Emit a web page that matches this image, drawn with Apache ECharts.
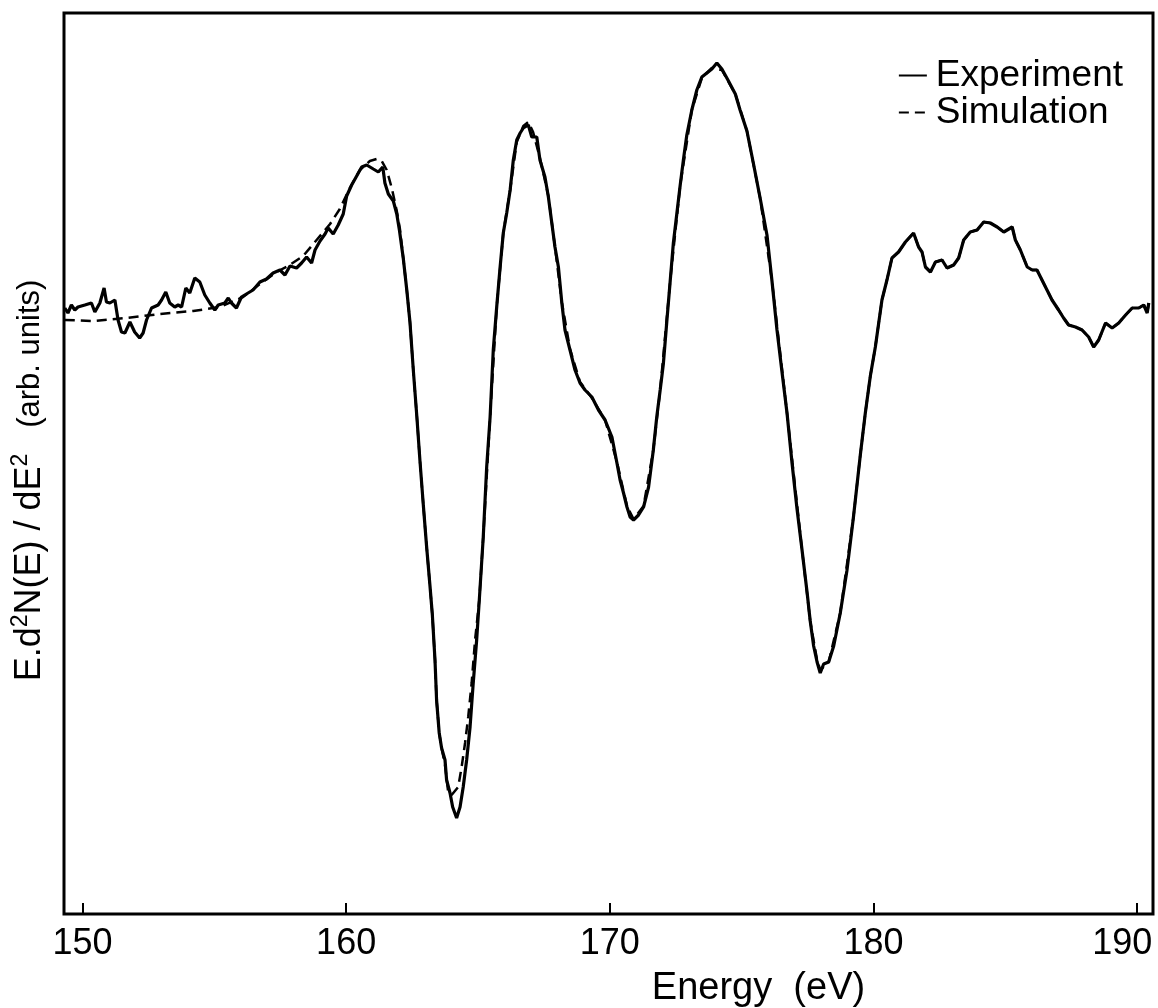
<!DOCTYPE html>
<html>
<head>
<meta charset="utf-8">
<script src="https://cdn.jsdelivr.net/npm/echarts@6.0.0/dist/echarts.min.js"></script>
<style>
html,body{margin:0;padding:0;background:#fff;}
#chart{width:1158px;height:1008px;}
</style>
</head>
<body>
<div id="chart"></div>
<script>
// Energy (eV) and intensity (arb. units)
const energyExp = [149.33,149.45,149.58,149.71,149.83,150.09,150.34,150.47,150.66,150.82,150.91,151.04,151.23,151.35,151.48,151.61,151.80,151.98,152.17,152.30,152.43,152.62,152.87,153.00,153.16,153.31,153.50,153.63,153.76,153.92,154.07,154.26,154.45,154.64,154.83,155.02,155.15,155.40,155.53,155.65,155.84,156.03,156.28,156.47,156.73,156.98,157.23,157.49,157.68,157.87,158.12,158.31,158.50,158.69,158.82,159.01,159.20,159.32,159.51,159.70,159.89,160.02,160.21,160.40,160.59,160.78,161.03,161.22,161.39,161.47,161.60,161.79,161.92,162.02,162.17,162.30,162.42,162.55,162.68,162.80,162.93,163.05,163.18,163.27,163.37,163.43,163.53,163.62,163.75,163.81,163.94,164.04,164.19,164.32,164.44,164.57,164.70,164.82,164.95,165.05,165.20,165.33,165.46,165.58,165.71,165.84,165.96,166.09,166.22,166.34,166.47,166.60,166.72,166.91,167.04,167.23,167.35,167.54,167.67,167.80,167.92,168.05,168.18,168.30,168.49,168.68,168.87,169.06,169.32,169.57,169.82,170.08,170.27,170.39,170.52,170.65,170.77,170.90,171.09,171.28,171.47,171.65,171.78,171.91,172.03,172.16,172.29,172.41,172.54,172.67,172.79,172.92,173.11,173.30,173.49,173.68,173.87,174.06,174.25,174.50,174.76,174.94,175.20,175.45,175.70,175.96,176.15,176.34,176.53,176.72,176.91,177.10,177.29,177.48,177.60,177.73,177.86,177.98,178.11,178.30,178.49,178.74,178.99,179.24,179.50,179.69,179.88,180.07,180.32,180.51,180.70,180.95,181.21,181.52,181.71,181.84,181.97,182.16,182.35,182.60,182.79,183.04,183.23,183.42,183.67,183.93,184.18,184.43,184.69,184.94,185.26,185.38,185.57,185.83,186.02,186.20,186.39,186.58,186.77,187.02,187.21,187.40,187.66,187.91,188.16,188.35,188.54,188.80,189.05,189.30,189.56,189.81,190.06,190.25,190.38,190.44];
const intensityExp = [606,601,609,604,607,609,611,602,611,626,612,611,614,594,582,581,592,582,576,581,594,606,609,614,622,611,607,609,607,626,621,636,632,619,611,604,609,611,616,611,606,617,621,624,632,635,641,644,639,648,646,651,657,651,664,673,680,686,680,689,700,718,729,738,747,749,745,742,747,731,720,713,700,684,655,624,592,543,498,453,408,368,328,299,254,214,181,166,154,134,121,107,96,107,127,154,187,231,274,314,377,447,497,564,607,647,681,701,724,754,774,781,786,789,777,777,754,737,717,691,667,647,611,584,564,544,531,524,517,504,494,477,451,434,421,407,397,394,399,407,427,464,497,524,550,592,633,671,700,729,754,779,804,824,837,841,845,851,845,833,820,804,783,750,716,679,633,584,542,501,451,405,364,322,293,268,252,241,250,252,268,301,343,397,459,501,538,567,614,634,656,662,672,681,667,662,647,642,652,654,646,649,656,674,682,684,692,691,687,682,687,674,664,647,644,644,634,624,614,604,596,589,587,584,577,567,574,591,586,591,599,606,606,609,601,611];

const energySim = [149.33,150.40,151.67,152.93,154.20,155.21,156.09,156.73,157.36,157.80,158.37,158.88,159.39,159.76,160.14,160.52,160.90,161.16,161.35,161.54,161.73,161.92,162.04,162.17,162.30,162.42,162.55,162.68,162.80,162.93,163.05,163.18,163.27,163.37,163.43,163.53,163.62,163.75,163.87,164.00,164.06,164.25,164.38,164.51,164.63,164.76,164.89,165.05,165.20,165.46,165.71,165.96,166.22,166.47,166.72,166.91,167.09,167.35,167.67,167.92,168.18,168.49,168.87,169.32,169.82,170.27,170.65,170.90,171.28,171.65,171.91,172.29,172.67,173.11,173.49,173.87,174.25,174.76,175.20,175.70,176.15,176.72,177.29,177.60,177.86,177.98,178.30,178.74,179.24,179.50,179.69,179.88,180.07,180.32,180.51,180.70,180.95,181.21,181.52,181.71,181.84,181.97,182.16,182.35,182.60,182.79,183.04,183.23,183.42,183.67,183.93,184.18,184.43,184.69,184.94,185.26,185.38,185.57,185.83,186.02,186.20,186.39,186.58,186.77,187.02,187.21,187.40,187.66,187.91,188.16,188.35,188.54,188.80,189.05,189.30,189.56,189.81,190.06,190.25,190.38,190.44];
const intensitySim = [594,593,596,600,603,607,617,630,642,648,658,674,690,705,726,744,753,755,753,744,726,703,685,655,624,592,543,498,453,408,368,328,299,254,214,181,166,149,122,119,121,127,147,171,197,231,274,314,377,497,607,681,724,772,788,792,782,756,718,667,612,565,532,516,494,452,408,395,408,464,524,633,729,804,836,846,844,820,783,716,633,501,364,293,254,244,252,301,397,459,501,538,567,614,634,656,662,672,681,667,662,647,642,652,654,646,649,656,674,682,684,692,691,687,682,687,674,664,647,644,644,634,624,614,604,596,589,587,584,577,567,574,591,586,591,599,606,606,609,601,611];

const xTicks = [150, 160, 170, 180, 190];

const zip = (xs, ys) => xs.map((x, i) => [x, ys[i]]);

const chart = echarts.init(document.getElementById('chart'));
const FONT = 'Liberation Sans';
chart.setOption({
  backgroundColor: '#ffffff',
  animation: false,
  color: ['#000000', '#000000'],
  textStyle: { fontFamily: FONT, color: '#000' },
  grid: {
    left: 64, right: 5, top: 13, bottom: 94,
    outerBoundsMode: 'none',
    containLabel: false,
    show: true, borderColor: '#000', borderWidth: 3, backgroundColor: 'transparent'
  },
  legend: {
    orient: 'vertical',
    right: 30, top: 52,
    itemWidth: 28, itemHeight: 10, itemGap: 0,
    itemStyle: { opacity: 0 },
    data: ['Experiment', 'Simulation'],
    textStyle: { fontFamily: FONT, fontSize: 37, color: '#000', lineHeight: 32, padding: [0, 0, 0, 4] }
  },
  xAxis: {
    type: 'value',
    min: 149.3, max: 190.6,
    name: 'Energy  (eV)',
    nameLocation: 'middle',
    nameGap: 56,
    nameTextStyle: { fontFamily: FONT, fontSize: 38, color: '#000', padding: [0, 0, 0, 300] },
    axisLine: { show: false },
    splitLine: { show: false },
    axisTick: { show: true, inside: true, length: 11, customValues: xTicks, lineStyle: { color: '#000', width: 2 } },
    axisLabel: {
      customValues: xTicks, fontFamily: FONT, fontSize: 36, color: '#000', margin: 12,
      formatter: function (v) { return v === xTicks[xTicks.length - 1] ? '{last|' + v + '}' : String(v); },
      rich: { last: { fontFamily: FONT, fontSize: 36, color: '#000', padding: [0, 30, 0, 0] } }
    }
  },
  yAxis: {
    type: 'value',
    min: 0, max: 901,
    name: '{b|E.d}{s|2}{b|N(E) / dE}{s|2}{n|   (arb. units)}',
    nameLocation: 'middle',
    nameRotate: 90,
    nameGap: 13,
    nameTextStyle: {
      padding: [0, 34, 0, 0],
      rich: {
        b: { fontFamily: FONT, fontSize: 36, color: '#000', lineHeight: 42 },
        n: { fontFamily: FONT, fontSize: 31, color: '#000', lineHeight: 42 },
        s: { fontFamily: FONT, fontSize: 23, color: '#000', lineHeight: 42, padding: [0, 0, 18, 0] }
      }
    },
    axisLine: { show: false },
    axisTick: { show: false },
    axisLabel: { show: false },
    splitLine: { show: false }
  },
  series: [
    {
      name: 'Experiment', type: 'line', symbol: 'none', smooth: false,
      data: zip(energyExp, intensityExp),
      itemStyle: { color: '#000' },
      lineStyle: { color: '#000', width: 3.2 }, z: 3
    },
    {
      name: 'Simulation', type: 'line', symbol: 'none', smooth: false,
      data: zip(energySim, intensitySim),
      itemStyle: { color: '#000' },
      lineStyle: { color: '#000', width: 2.5, type: [10, 6] }, z: 2
    }
  ]
});
</script>
</body>
</html>
